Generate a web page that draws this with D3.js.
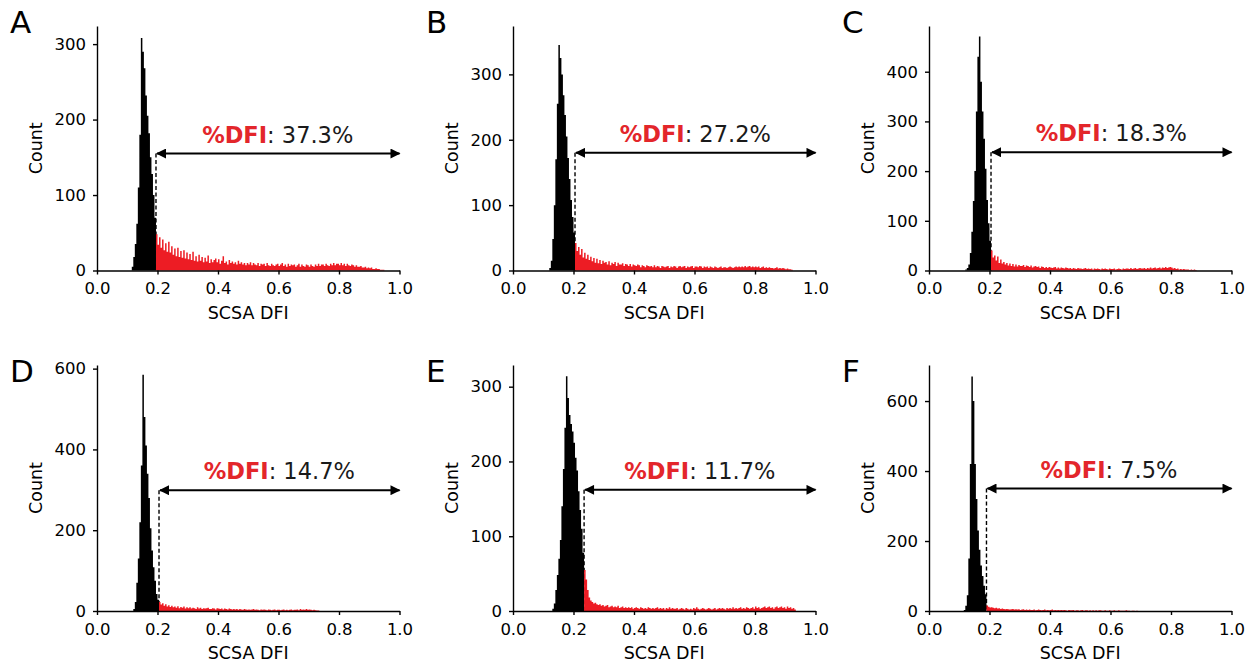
<!DOCTYPE html>
<html>
<head>
<meta charset="utf-8">
<script src="https://cdn.jsdelivr.net/npm/d3@7"></script>
<style>
  body { margin: 0; background: #fff; }
  svg text { font-family: "DejaVu Sans", sans-serif; }
</style>
</head>
<body>
<div id="chart"></div>
<script>
// histogram bins are 0.005 wide, counts start at binStarts[i]
const binWidth = 0.005;
const panelLetters = ["A", "B", "C", "D", "E", "F"];
const dfiValues = ["37.3%", "27.2%", "18.3%", "14.7%", "11.7%", "7.5%"];
const binStarts = [0.115, 0.12, 0.12, 0.12, 0.13, 0.115];
const gates = [0.195, 0.205, 0.205, 0.205, 0.235, 0.19];
const arrowCounts = [155, 180, 238, 299, 162, 350];
const yMaxes = [324, 374, 492, 609, 329, 703];
const yTickValues = [
  [0, 100, 200, 300],
  [0, 100, 200, 300],
  [0, 100, 200, 300, 400],
  [0, 200, 400, 600],
  [0, 100, 200, 300],
  [0, 200, 400, 600]
];
const xTickValues = [0, 0.2, 0.4, 0.6, 0.8, 1.0];

const countsA = [
  5, 18, 35, 62, 110, 180, 308, 290, 268, 232, 205, 182, 150, 128, 100, 70,
  48, 34, 44, 30, 41, 27, 36, 25, 38, 24,
  32, 21, 29, 19, 30, 18, 26, 17, 27, 16,
  24, 15, 22, 14, 25, 13, 19, 12, 21, 13,
  18, 11, 17, 12, 20, 10, 15, 11, 14, 16,
  11, 15, 9, 13, 19, 10, 12, 8, 14, 10,
  12, 9, 11, 8, 13, 9, 11, 8, 10, 7,
  10, 8, 11, 7, 10, 8, 7, 10, 6, 9,
  8, 9, 6, 10, 7, 6, 9, 7, 6, 8,
  9, 6, 8, 10, 6, 8, 5, 9, 6, 8,
  7, 8, 5, 7, 9, 5, 8, 6, 5, 8,
  7, 5, 8, 6, 5, 8, 6, 9, 6, 8,
  8, 6, 9, 7, 6, 9, 7, 10, 7, 9,
  9, 7, 10, 7, 9, 6, 9, 7, 6, 8,
  7, 5, 7, 5, 5, 6, 4, 4, 5, 3,
  4, 3, 4, 2, 2, 3, 2, 2, 1, 1,
  1
];
const countsB = [
  4, 15, 48, 100, 170, 255, 345, 325, 300, 268, 238, 205, 172, 140, 108, 82, 58,
  42, 30, 36, 24, 33, 20, 27, 18, 24, 16,
  21, 14, 19, 12, 18, 11, 16, 10, 15, 12,
  13, 9, 14, 8, 12, 10, 13, 7, 12, 9,
  9, 11, 7, 10, 9, 7, 10, 6, 9, 8,
  7, 9, 8, 5, 8, 7, 5, 8, 7, 6,
  7, 5, 8, 5, 7, 6, 4, 7, 6, 5,
  6, 7, 4, 6, 5, 7, 6, 4, 6, 7,
  5, 6, 7, 4, 6, 5, 6, 7, 4, 6,
  6, 5, 7, 6, 4, 6, 5, 6, 4, 6,
  5, 4, 6, 5, 4, 5, 6, 4, 5, 5,
  4, 5, 6, 5, 4, 5, 6, 5, 6, 5,
  6, 5, 7, 5, 6, 7, 5, 6, 5, 6,
  5, 6, 4, 5, 6, 4, 5, 4, 5, 4,
  4, 3, 4, 5, 3, 4, 3, 4, 3, 2,
  3, 2, 2, 1
];
const countsC = [
  2, 5, 12, 35, 78, 140, 200, 320, 430, 471, 380, 320, 265, 205, 142, 95, 60,
  40, 26, 30, 20, 28, 15, 22, 14, 17, 12,
  15, 10, 14, 9, 13, 8, 12, 8, 11, 9,
  9, 11, 7, 10, 9, 7, 10, 6, 8, 9,
  7, 8, 5, 8, 7, 5, 7, 5, 7, 6,
  5, 6, 7, 4, 6, 4, 6, 5, 4, 6,
  5, 4, 5, 3, 5, 4, 3, 5, 4, 4,
  3, 4, 5, 3, 4, 3, 4, 2, 4, 3,
  4, 3, 2, 4, 3, 4, 3, 2, 4, 3,
  3, 4, 2, 3, 4, 3, 2, 4, 3, 4,
  4, 3, 5, 3, 4, 5, 3, 4, 5, 4,
  4, 5, 3, 5, 4, 6, 4, 5, 6, 4,
  5, 6, 4, 6, 5, 7, 5, 6, 7, 6,
  4, 5, 3, 4, 2, 3, 2, 3, 2, 2,
  2, 1, 2, 1, 2, 1
];
const countsD = [
  5, 22, 70, 130, 220, 360, 585, 480, 410, 340, 280, 205, 150, 108, 75, 42, 28,
  22, 16, 19, 13, 17, 11, 14, 10, 13, 9,
  11, 8, 12, 7, 10, 8, 11, 6, 9, 7,
  9, 6, 8, 7, 5, 9, 6, 8, 5, 7,
  6, 7, 8, 5, 5, 7, 6, 4, 7, 6,
  5, 6, 4, 6, 5, 4, 6, 5, 4, 5,
  4, 5, 3, 5, 4, 3, 5, 4, 3, 4,
  3, 4, 5, 3, 4, 3, 2, 4, 3, 4,
  3, 2, 4, 3, 2, 3, 4, 2, 3, 3,
  2, 3, 4, 2, 3, 2, 3, 4, 2, 3,
  3, 4, 2, 5, 3, 4, 3, 5, 3, 4,
  3, 2, 3, 2, 1, 1
];
const countsE = [
  3, 10, 28, 48, 70, 95, 140, 190, 245, 314, 285, 262, 250, 240, 225, 205, 188, 160, 135, 110, 78,
  55, 42, 28, 18, 14, 12, 10, 11, 9, 8,
  9, 7, 8, 6, 7, 8, 5, 6, 7, 5,
  6, 5, 7, 4, 5, 6, 4, 5, 4, 5,
  4, 5, 3, 4, 5, 4, 3, 5, 4, 3,
  4, 3, 5, 4, 3, 4, 3, 4, 5, 3,
  4, 3, 4, 2, 4, 3, 5, 3, 4, 3,
  3, 4, 2, 3, 4, 3, 2, 4, 3, 2,
  3, 2, 4, 3, 5, 3, 2, 3, 4, 3,
  2, 3, 4, 3, 2, 3, 4, 2, 3, 4,
  3, 4, 3, 2, 4, 3, 4, 3, 5, 3,
  4, 3, 4, 5, 3, 4, 3, 5, 4, 3,
  4, 5, 3, 6, 4, 5, 3, 4, 5, 6,
  4, 5, 6, 4, 5, 3, 5, 6, 4, 5,
  6, 4, 5, 3, 6, 4, 5, 3, 4, 2
];
const countsF = [
  3, 15, 45, 150, 420, 670, 600, 420, 320, 230, 175, 130, 100, 72, 48,
  16, 12, 10, 11, 9, 8, 9, 7, 8, 6,
  7, 6, 5, 6, 5, 4, 5, 6, 4, 5,
  4, 5, 3, 4, 5, 3, 4, 3, 4, 3,
  3, 4, 2, 3, 4, 3, 2, 3, 4, 2,
  3, 2, 3, 4, 2, 3, 2, 3, 2, 3,
  2, 3, 2, 1, 3, 2, 2, 3, 1, 2,
  2, 1, 2, 3, 1, 2, 2, 1, 2, 1,
  2, 1, 2, 1, 2, 2, 1, 1, 2, 1,
  1, 2, 1, 1, 2, 1, 1, 2, 1, 1,
  1, 1, 2, 1, 1, 0, 1, 1, 0, 1
];
const panelCounts = [countsA, countsB, countsC, countsD, countsE, countsF];

const width = 1257, height = 665;
const colX = [97, 513, 929];
const rowY = [{ top: 26, bottom: 270.5 }, { top: 365, bottom: 611 }];
const plotW = 302.5;
const red = "#ed1c24";

const svg = d3.select("#chart").append("svg").attr("width", width).attr("height", height);

const defs = svg.append("defs");
defs.append("marker")
  .attr("id", "head")
  .attr("viewBox", "0 0 10 10")
  .attr("refX", 9).attr("refY", 5)
  .attr("markerWidth", 11).attr("markerHeight", 10)
  .attr("markerUnits", "userSpaceOnUse")
  .attr("orient", "auto-start-reverse")
  .append("path").attr("d", "M0,0L10,5L0,10Z").attr("fill", "#000");

panelLetters.forEach((letter, p) => {
  const col = p % 3, row = Math.floor(p / 3);
  const left = colX[col], top = rowY[row].top, innerH = rowY[row].bottom - top;
  const x = d3.scaleLinear().domain([0, 1]).range([0, plotW]);
  const y = d3.scaleLinear().domain([0, yMaxes[p]]).range([innerH, 0]);
  const g = svg.append("g").attr("transform", `translate(${left},${top})`);
  const gate = gates[p];
  const bins = panelCounts[p].map((c, i) => ({ x0: binStarts[p] + i * binWidth, c }));

  // dashed gate line sits under the histogram
  g.append("line")
    .attr("x1", x(gate)).attr("x2", x(gate))
    .attr("y1", y(arrowCounts[p])).attr("y2", y(0))
    .attr("stroke", "#000").attr("stroke-width", 1.4).attr("stroke-dasharray", "4,2.5");

  // histogram drawn as step areas (one below the gate, one above) so thin bins don't leave seams
  const below = bins.filter(d => d.x0 < gate - binWidth / 2);
  const above = bins.filter(d => d.x0 >= gate - binWidth / 2);
  const withEnd = arr => arr.concat([{ x0: arr[arr.length - 1].x0 + binWidth, c: arr[arr.length - 1].c }]);
  const area = d3.area()
    .x(d => x(d.x0))
    .y0(y(0))
    .y1(d => y(d.c))
    .curve(d3.curveStepAfter);
  g.append("path").datum(withEnd(below)).attr("d", area).attr("fill", "#000");
  g.append("path").datum(withEnd(above)).attr("d", area).attr("fill", red);

  const yAxis = d3.axisLeft(y).tickValues(yTickValues[p]).tickFormat(d3.format("d")).tickSize(4).tickSizeOuter(0).tickPadding(7);
  const xAxis = d3.axisBottom(x).tickValues(xTickValues).tickFormat(d3.format(".1f")).tickSize(4).tickSizeOuter(0).tickPadding(8);
  const ya = g.append("g").call(yAxis);
  const xa = g.append("g").attr("transform", `translate(0,${innerH})`).call(xAxis);
  [ya, xa].forEach(a => {
    a.selectAll("path, line").attr("stroke", "#000").attr("stroke-width", 1.4);
    a.selectAll("text").attr("font-family", "DejaVu Sans").attr("font-size", 16.5).attr("fill", "#000");
  });

  g.append("text").text("Count")
    .attr("transform", `translate(-55,${innerH / 2}) rotate(-90)`)
    .attr("text-anchor", "middle").attr("font-size", 17.5).attr("fill", "#000");
  g.append("text").text("SCSA DFI")
    .attr("x", plotW / 2).attr("y", innerH + 48)
    .attr("text-anchor", "middle").attr("font-size", 17.5).attr("fill", "#000");

  // double arrow over the gated region
  const ay = y(arrowCounts[p]);
  g.append("line")
    .attr("x1", x(gate) + 1).attr("x2", x(1))
    .attr("y1", ay).attr("y2", ay)
    .attr("stroke", "#000").attr("stroke-width", 2)
    .attr("marker-start", "url(#head)").attr("marker-end", "url(#head)");

  const label = g.append("text")
    .attr("x", (x(gate) + x(1)) / 2).attr("y", ay - 11)
    .attr("text-anchor", "middle")
    .attr("font-family", "Open Sans").attr("font-size", 22.5).attr("fill", "#1a1a1a");
  label.append("tspan").text("%DFI").attr("fill", "#e3262b").attr("font-weight", "bold");
  label.append("tspan").text(": " + dfiValues[p]);

  svg.append("text").text(letter)
    .attr("x", left - 87).attr("y", top + (row === 0 ? 7 : 17))
    .attr("font-family", "Open Sans").attr("font-size", 31).attr("fill", "#000");
});
</script>
</body>
</html>
